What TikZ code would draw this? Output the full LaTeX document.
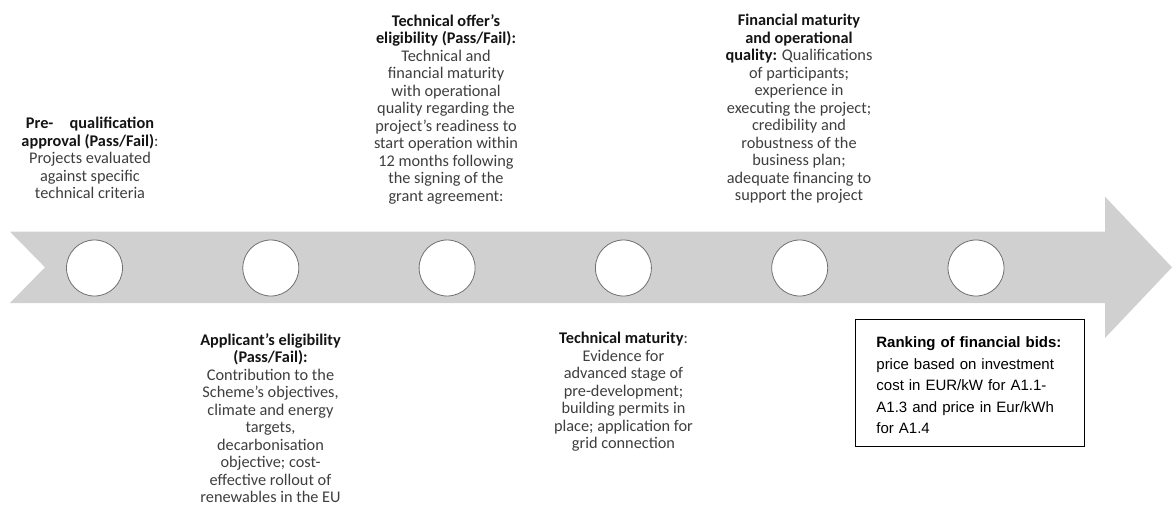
\documentclass[tikz,border=0pt]{standalone}
\usepackage{fontspec}
\setmainfont{Carlito}
\newfontfamily\boxfont{Liberation Sans}
\definecolor{bandgray}{HTML}{D0D0D0}
\definecolor{circgray}{HTML}{707070}
\definecolor{bodygray}{HTML}{3E3E3E}
\definecolor{titlecol}{HTML}{141414}
\newcommand\mytitle[1]{{\color{titlecol}\bfseries #1}}
\begin{document}
\begin{tikzpicture}[x=1pt,y=-1pt,
  bandshape/.style={fill=bandgray,draw=none},
  dot/.style={circle,fill=white,draw=circgray,line width=0.8pt,minimum size=56pt,inner sep=0pt},
  lbl/.style={align=center,font=\fontsize{16.3}{17.5}\selectfont,text=bodygray,inner sep=0pt,anchor=north},
  rankbox/.style={draw=black,line width=0.8pt,anchor=north west,minimum width=229pt,minimum height=127pt,
    text width=187pt,inner xsep=21pt,inner ysep=0pt,align=left,font=\boxfont\fontsize{15}{21.5}\selectfont,text=black}
]
\useasboundingbox (0,0) rectangle (1172,506);
% arrow band
\fill[bandshape] (10,231.7) -- (1105,231.7) -- (1105,196.7) -- (1172,267.3) -- (1105,338) -- (1105,303) -- (10,303) -- (45,267.3) -- cycle;
% circles
\foreach \i in {1,...,6}{
  \node[dot] (c\i) at ({94.5+176.3*(\i-1)},268) {};
}
% labels above
\node[lbl] (t1) at (90,117) {\mytitle{Pre-\quad qualification}\\\mytitle{approval (Pass/Fail)}:\\Projects evaluated\\against specific\\technical criteria};
\node[lbl] (t3) at (446,14) {\mytitle{Technical offer’s}\\\mytitle{eligibility (Pass/Fail):}\\Technical and\\financial maturity\\with operational\\quality regarding the\\project’s readiness to\\start operation within\\12 months following\\the signing of the\\grant agreement:};
\node[lbl] (t5) at (799,14) {\mytitle{Financial maturity}\\\mytitle{and operational}\\\mytitle{quality:} Qualifications\\of participants;\\experience in\\executing the project;\\credibility and\\robustness of the\\business plan;\\adequate financing to\\support the project};
% labels below
\node[lbl] (t2) at (270.5,333) {\mytitle{Applicant’s eligibility}\\\mytitle{(Pass/Fail):}\\Contribution to the\\Scheme’s objectives,\\climate and energy\\targets,\\decarbonisation\\objective; cost-\\effective rollout of\\renewables in the EU};
\node[lbl] (t4) at (623.5,332) {\mytitle{Technical maturity}:\\Evidence for\\advanced stage of\\pre-development;\\building permits in\\place; application for\\grid connection};
% ranking box
\node[rankbox] (rank) at (855,319) {\rule{0pt}{16pt}\textbf{Ranking of financial bids:}\\price based on investment\\cost in EUR/kW for A1.1-\\A1.3 and price in Eur/kWh\\for A1.4};
\end{tikzpicture}
\end{document}
